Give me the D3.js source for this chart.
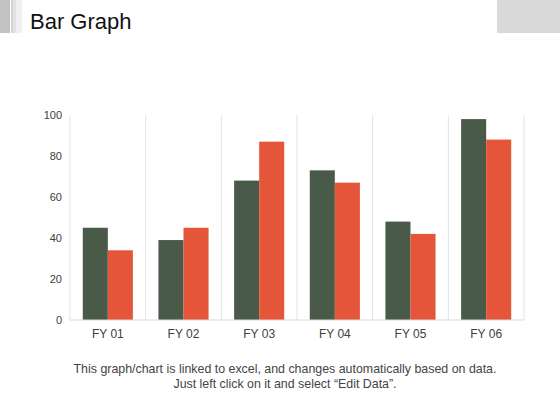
<!DOCTYPE html>
<html lang="en">
<head>
	<meta charset="utf-8">
	<script src="https://d3js.org/d3.v7.min.js"></script>
	<style type="text/css">
		body {
			margin: 0;
			background: #fff;
			font-family: "Liberation Sans", Arial, sans-serif;
		}
	</style>
</head>
<body>
	<svg id="svg1" width="560" height="420"></svg>
	<script type="text/javascript">
		// chart data
		var categories = ["FY 01", "FY 02", "FY 03", "FY 04", "FY 05", "FY 06"];
		var seriesNames = ["Series 1", "Series 2"];
		var series1 = [45, 39, 68, 73, 48, 98];
		var series2 = [34, 45, 87, 67, 42, 88];
		var yTicks = [0, 20, 40, 60, 80, 100];

		var colors = ["#4a5a48", "#e4553a"];

		var svg = d3.select("#svg1");

		// header decoration
		svg.append("rect").attr("x", 0).attr("y", 0).attr("width", 10).attr("height", 33).style("fill", "#c2c2c2");
		svg.append("rect").attr("x", 11).attr("y", 0).attr("width", 2).attr("height", 33).style("fill", "#d4d4d4");
		svg.append("rect").attr("x", 13).attr("y", 0).attr("width", 3).attr("height", 33).style("fill", "#e2e2e2");
		svg.append("rect").attr("x", 16).attr("y", 0).attr("width", 6).attr("height", 33).style("fill", "#f0f0f0");
		svg.append("rect").attr("x", 497).attr("y", 0).attr("width", 63).attr("height", 33).style("fill", "#d9d9d9");

		svg.append("text")
			.attr("x", 30)
			.attr("y", 29)
			.text("Bar Graph")
			.style("font-size", "22px")
			.style("fill", "#111");

		var plotLeft = 70, plotRight = 524, plotTop = 115, plotBottom = 320;

		var x0 = d3.scaleBand()
			.domain(categories)
			.range([plotLeft, plotRight])
			.paddingInner(0)
			.paddingOuter(0);

		var x1 = d3.scaleBand()
			.domain(seriesNames)
			.range([0, x0.bandwidth()])
			.paddingOuter(0.51)
			.paddingInner(0);

		var y = d3.scaleLinear()
			.domain([0, 100])
			.range([plotBottom, plotTop]);

		// vertical separators between categories
		svg.selectAll("line.sep")
			.data(categories)
			.enter()
			.append("line")
			.attr("class", "sep")
			.attr("x1", function (d) { return x0(d) + x0.bandwidth(); })
			.attr("x2", function (d) { return x0(d) + x0.bandwidth(); })
			.attr("y1", plotTop)
			.attr("y2", plotBottom)
			.style("stroke", "#e3e3e3")
			.style("stroke-width", 1);

		svg.append("line")
			.attr("x1", plotLeft).attr("x2", plotLeft)
			.attr("y1", plotTop).attr("y2", plotBottom)
			.style("stroke", "#e3e3e3");

		var rows = categories.map(function (c, i) {
			return { cat: c, values: [series1[i], series2[i]] };
		});

		var groups = svg.selectAll("g.cat")
			.data(rows)
			.enter()
			.append("g")
			.attr("class", "cat")
			.attr("transform", function (d) { return "translate(" + x0(d.cat) + ",0)"; });

		groups.selectAll("rect")
			.data(function (d) { return d.values.map(function (v, j) { return { name: seriesNames[j], value: v, j: j }; }); })
			.enter()
			.append("rect")
			.attr("x", function (d) { return x1(d.name); })
			.attr("width", x1.bandwidth())
			.attr("y", function (d) { return y(d.value); })
			.attr("height", function (d) { return y(0) - y(d.value); })
			.style("fill", function (d) { return colors[d.j]; });

		// baseline
		svg.append("line")
			.attr("x1", plotLeft).attr("x2", plotRight)
			.attr("y1", y(0)).attr("y2", y(0))
			.style("stroke", "#d9d9d9");

		// y axis labels
		var yAxis = d3.axisLeft(y).tickValues(yTicks).tickSize(0).tickPadding(8);
		var gy = svg.append("g").attr("transform", "translate(" + plotLeft + ",0)").call(yAxis);
		gy.select(".domain").remove();
		gy.selectAll("text")
			.style("font-family", "Liberation Sans, Arial, sans-serif")
			.style("font-size", "11px")
			.style("fill", "#404040");

		// x axis labels
		var xAxis = d3.axisBottom(x0).tickSize(0).tickPadding(9);
		var gx = svg.append("g").attr("transform", "translate(0," + plotBottom + ")").call(xAxis);
		gx.select(".domain").remove();
		gx.selectAll("text")
			.style("font-family", "Liberation Sans, Arial, sans-serif")
			.style("font-size", "12px")
			.style("fill", "#404040");

		// footnote
		var note = svg.append("text")
			.attr("text-anchor", "middle")
			.style("font-size", "12.4px")
			.style("fill", "#444");
		note.append("tspan").attr("x", 285).attr("y", 373)
			.text("This graph/chart is linked to excel, and changes automatically based on data.");
		note.append("tspan").attr("x", 285).attr("y", 388)
			.text("Just left click on it and select \u201cEdit Data\u201d.");
	</script>
</body>
</html>
